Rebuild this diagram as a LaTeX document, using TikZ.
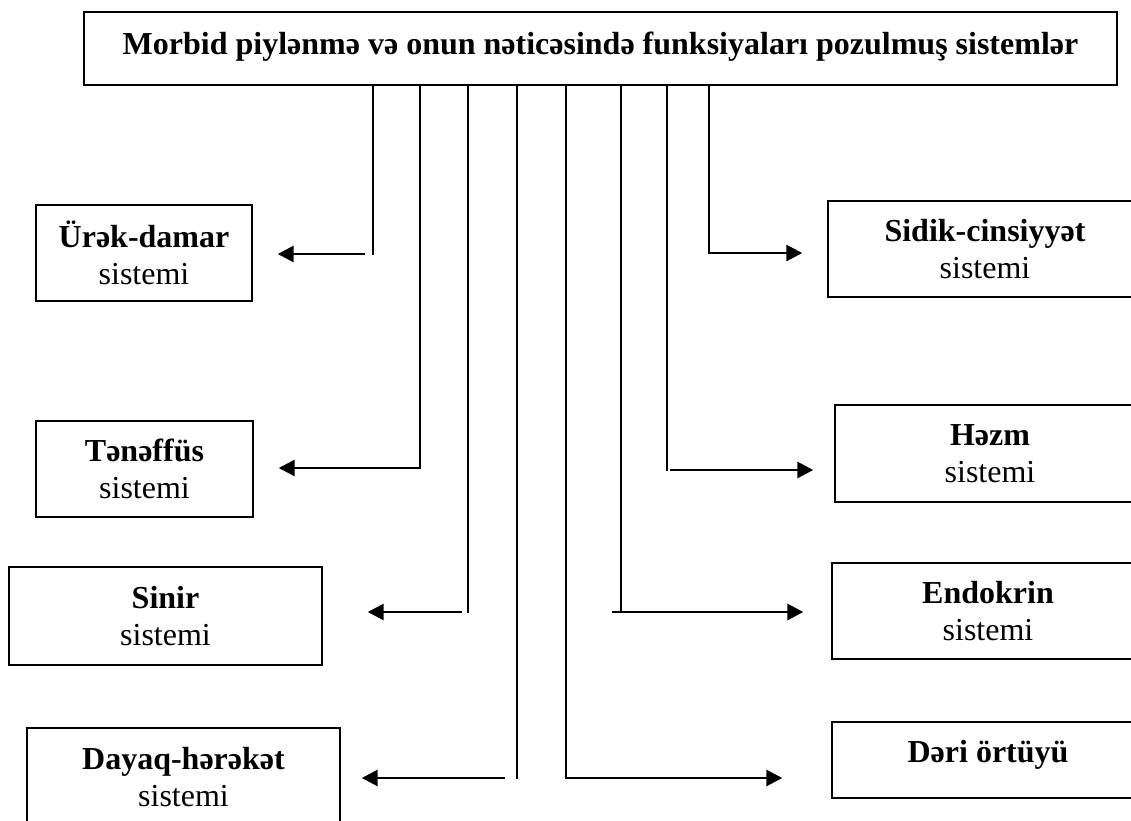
\documentclass[tikz,border=0pt]{standalone}
\usepackage{fontspec}
\setmainfont{Liberation Serif}
\usetikzlibrary{arrows.meta, positioning}

\begin{document}
\begin{tikzpicture}[x=1pt, y=-1pt,
  box/.style={draw, line width=1.4pt, align=center, inner sep=0pt,
    font=\fontsize{32}{37}\selectfont},
  stem/.style={line width=2.2pt, line cap=rect},
  arr/.style={line width=2.8pt, -{Triangle[length=16pt,width=16pt]}}]
  \clip (0,0) rectangle (1131,820);
  % title box
  \node[box, minimum width=1033pt, minimum height=73pt, text height=21pt, text depth=10pt]
    (top) at (600.5,48.5) {\textbf{Morbid piylənmə və onun nəticəsində funksiyaları pozulmuş sistemlər}};
  % systems, left column
  \node[box, minimum width=216pt, minimum height=96pt] (urek) at (144,253)
    {\textbf{Ürək-damar}\\sistemi};
  \node[box, minimum width=217pt, minimum height=96pt] (teneffus) at (144.5,469)
    {\textbf{Tənəffüs}\\sistemi};
  \node[box, minimum width=313pt, minimum height=98pt] (sinir) at (165.5,616)
    {\textbf{Sinir}\\sistemi};
  \node[box, minimum width=313pt, minimum height=98pt] (dayaq) at (183.5,777)
    {\textbf{Dayaq-hərəkət}\\sistemi};
  % systems, right column
  \node[box, minimum width=314pt, minimum height=96pt] (sidik) at (985,249)
    {\textbf{Sidik-cinsiyyət}\\sistemi};
  \node[box, minimum width=310pt, minimum height=97pt] (hezm) at (990,453.5)
    {\textbf{Həzm}\\sistemi};
  \node[box, minimum width=312pt, minimum height=96pt] (endokrin) at (988,611)
    {\textbf{Endokrin}\\sistemi};
  \node[box, minimum width=312pt, minimum height=76pt, text height=21pt, text depth=17pt]
    (deri) at (988,760) {\textbf{Dəri örtüyü}};

  % bends of the stems
  \coordinate (a1) at (373,254);
  \coordinate (a2) at (420,468);
  \coordinate (a3) at (468,612);
  \coordinate (a4) at (517,778);
  \coordinate (b4) at (566,778);
  \coordinate (b3) at (621,612);
  \coordinate (b2) at (667,470);
  \coordinate (b1) at (709,253);

  \draw[stem] (top.south -| a1) -- (a1);
  \draw[stem] (top.south -| a2) -- (a2);
  \draw[stem] (top.south -| a3) -- (a3);
  \draw[stem] (top.south -| a4) -- (a4);
  \draw[stem] (top.south -| b4) -- (b4);
  \draw[stem] (top.south -| b3) -- (b3);
  \draw[stem] (top.south -| b2) -- (b2);
  \draw[stem] (top.south -| b1) -- (b1);

  % arrows to the boxes
  \draw[arr] ([xshift=-8pt]a1) -- ([xshift=25pt]urek.east |- a1);
  \draw[arr] (a2) -- ([xshift=25pt]teneffus.east |- a2);
  \draw[arr] ([xshift=-6pt]a3) -- ([xshift=45pt]sinir.east |- a3);
  \draw[arr] ([xshift=-12pt]a4) -- ([xshift=21pt]dayaq.east |- a4);
  \draw[arr] (b4) -- ([xshift=-49pt]deri.west |- b4);
  \draw[arr] ([xshift=-9pt]b3) -- ([xshift=-28pt]endokrin.west |- b3);
  \draw[arr] ([xshift=3pt]b2) -- ([xshift=-21pt]hezm.west |- b2);
  \draw[arr] (b1) -- ([xshift=-25pt]sidik.west |- b1);
\end{tikzpicture}
\end{document}
